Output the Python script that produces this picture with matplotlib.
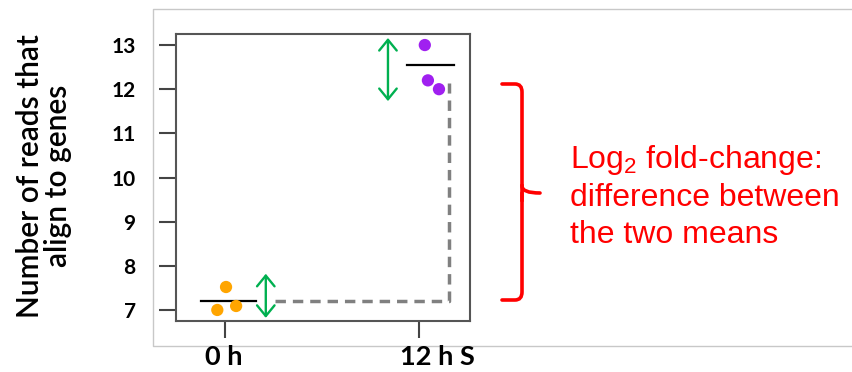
import matplotlib
matplotlib.use('Agg')
import matplotlib.pyplot as plt
from matplotlib.lines import Line2D
from matplotlib.path import Path
from matplotlib.patches import PathPatch

plt.rcParams['mathtext.fontset'] = 'custom'
plt.rcParams['mathtext.rm'] = 'Liberation Sans'

# data
groups = ['0 h', '12 h S']
group_x = [1, 2]
x_0h = [1.005, 0.96, 1.057]
y_0h = [7.52, 7.0, 7.09]
x_12h = [2.03, 2.046, 2.103]
y_12h = [13.0, 12.2, 12.0]
means = [7.2, 12.55]
mean_spans = [(0.875, 1.16), (1.94, 2.18)]
yticks = [7, 8, 9, 10, 11, 12, 13]

ORANGE = '#FFA500'
PURPLE = '#A020F0'
GREEN = '#00B050'

fig = plt.figure(figsize=(8.52, 3.72), dpi=100)
W, H = 852, 372


def fx(px):
    return px / W


def fy(py):
    return (H - py) / H


# light grey frame around the plot region (open on the right)
fig.add_artist(Line2D([1.0, fx(153), fx(153), 1.0], [fy(9), fy(9), fy(346), fy(346)],
                      color='#c8c8c8', lw=1.0, transform=fig.transFigure))

ax = fig.add_axes([fx(176), fy(321), fx(470) - fx(176), fy(34) - fy(321)])
ax.set_xlim(0.747, 2.263)
ax.set_ylim(6.75, 13.25)

ax.scatter(x_0h, y_0h, s=78, color=ORANGE, edgecolors='none', zorder=3)
ax.scatter(x_12h, y_12h, s=78, color=PURPLE, edgecolors='none', zorder=3)
for m, (x0, x1) in zip(means, mean_spans):
    ax.plot([x0, x1], [m, m], color='black', lw=1.6, zorder=2)

# dashed guide between the two means
ax.plot([1.26, 2.155, 2.155], [means[0], means[0], 12.14], color='#808080', lw=2.5,
        linestyle=(0, (3.0, 2.0)), solid_joinstyle='round', zorder=1)

# green spread arrows
arrow = dict(arrowstyle='<->,head_length=0.55,head_width=0.45', color=GREEN, lw=1.7,
             mutation_scale=14, shrinkA=0, shrinkB=0)
ax.annotate('', xy=(1.21, 6.82), xytext=(1.21, 7.82), arrowprops=arrow)
ax.annotate('', xy=(1.84, 11.73), xytext=(1.84, 13.16), arrowprops=arrow)

for s in ax.spines.values():
    s.set_color('#555555')
    s.set_linewidth(1.5)
ax.set_yticks(yticks)
ax.set_yticklabels([str(v) for v in yticks], fontfamily='Lato', fontweight='bold', fontsize=15)
ax.tick_params(axis='y', direction='out', length=12, width=1.5, color='#444444', pad=17)
ax.set_xticks(group_x)
ax.set_xticklabels([])
ax.tick_params(axis='x', direction='out', length=12, width=1.5, color='#444444')

# group labels sit below the grey frame; "12 h S" is set a little right of its tick
fig.text(fx(224), fy(365), groups[0], ha='center', va='baseline',
         fontfamily='Lato', fontweight='bold', fontsize=19.5)
fig.text(fx(437), fy(365), groups[1], ha='center', va='baseline',
         fontfamily='Lato', fontweight='bold', fontsize=19.5)

fig.text(fx(44), fy(176), 'Number of reads that\nalign to genes', rotation=90,
         ha='center', va='center', fontfamily='Lato', fontweight='semibold', fontsize=21.5,
         linespacing=1.02)

# red curly bracket
verts = [(502, 84), (515, 84), (522, 84), (522, 92),
         (522, 186), (522, 193), (540, 193),
         (522, 193), (522, 200), (522, 292),
         (522, 300), (515, 300), (502, 300)]
codes = [Path.MOVETO, Path.LINETO, Path.CURVE3, Path.CURVE3,
         Path.LINETO, Path.CURVE3, Path.CURVE3,
         Path.MOVETO, Path.CURVE3, Path.LINETO,
         Path.CURVE3, Path.CURVE3, Path.LINETO]
verts = [(fx(x), fy(y)) for x, y in verts]
fig.add_artist(PathPatch(Path(verts, codes), fill=False, edgecolor='#FF0000', lw=2.6,
                         transform=fig.transFigure, capstyle='round'))
fig.add_artist(Line2D([fx(522), fx(522)], [fy(186), fy(200)], color='#FF0000', lw=2.6,
                      transform=fig.transFigure))

red_lines = [r'Log$_{2}$ fold-change:', 'difference between', 'the two means']
for i, txt in enumerate(red_lines):
    fig.text(fx(570), fy(168 + 37.5 * i), txt, color='#FF0000', fontfamily='Liberation Sans',
             fontsize=23, ha='left', va='baseline')

fig.savefig('out.png', dpi=100)
